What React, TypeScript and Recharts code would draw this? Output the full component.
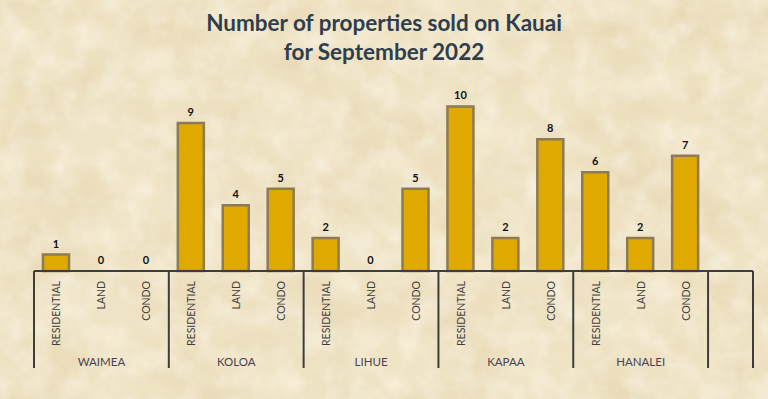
import { Bar, BarChart, Rectangle, XAxis, YAxis } from "recharts";

const types = ["RESIDENTIAL", "LAND", "CONDO"];
const regions = ["WAIMEA", "KOLOA", "LIHUE", "KAPAA", "HANALEI"];
const waimea = [1, 0, 0];
const koloa = [9, 4, 5];
const lihue = [2, 0, 5];
const kapaa = [10, 2, 8];
const hanalei = [6, 2, 7];
const sold = [waimea, koloa, lihue, kapaa, hanalei];

const W = 768;
const H = 399;
const LEFT = 34;
const RIGHT = 15;
const SLOTS = 16;
const BAND = (W - LEFT - RIGHT) / SLOTS;
const FONT = "Lato, 'Noto Sans', sans-serif";

type Row = { key: string; type: string; region: string; value: number | null };

const data: Row[] = [];
regions.forEach((region, r) => {
  types.forEach((type, t) => {
    data.push({ key: `${region}-${type}`, type, region, value: sold[r][t] });
  });
});
// empty slot at the end, like the original sheet
data.push({ key: "", type: "", region: "", value: null });

function GroupTick(props: any) {
  const { x, y, index } = props;
  const row = data[index];
  if (!row) return null;
  const lineColor = "#3d3d3d";
  return (
    <g>
      {index % 3 === 0 && (
        <line x1={x - BAND / 2} x2={x - BAND / 2} y1={y} y2={y + 97} stroke={lineColor} strokeWidth={2} />
      )}
      {index === data.length - 1 && (
        <line x1={x + BAND / 2} x2={x + BAND / 2} y1={y} y2={y + 97} stroke={lineColor} strokeWidth={2} />
      )}
      {row.type && (
        <text
          transform={`translate(${x + 4},${y + 10}) rotate(-90)`}
          textAnchor="end"
          fontSize={10.5}
          fill="#3f3f3f"
          fontFamily={FONT}
        >
          {row.type}
        </text>
      )}
      {index % 3 === 1 && row.region && (
        <text x={x} y={y + 95} textAnchor="middle" fontSize={11.5} fill="#4a4252" fontFamily={FONT}>
          {row.region}
        </text>
      )}
    </g>
  );
}

// bar plus its value label, so zero values still get a "0"
function BarWithLabel(props: any) {
  const { x, y, width, height, value, payload } = props;
  const v = payload ? payload.value : value;
  if (v === null || v === undefined) return null;
  return (
    <g>
      {height > 0 && <Rectangle {...props} />}
      <text x={x + width / 2} y={y - 7} textAnchor="middle" fontSize={11} fontWeight="bold" fill="#111" fontFamily={FONT}>
        {v}
      </text>
    </g>
  );
}

function Parchment() {
  return (
    <svg width={W} height={H} style={{ position: "absolute", left: 0, top: 0 }}>
      <defs>
        <filter id="paper" x="0" y="0" width="100%" height="100%">
          <feTurbulence type="fractalNoise" baseFrequency="0.012 0.018" numOctaves={5} seed={7} result="n" />
          <feColorMatrix
            in="n"
            type="matrix"
            values="0 0 0 0 0.72  0 0 0 0 0.58  0 0 0 0 0.33  1.6 0 0 0 -0.62"
          />
        </filter>
        <filter id="paper2" x="0" y="0" width="100%" height="100%">
          <feTurbulence type="fractalNoise" baseFrequency="0.04" numOctaves={3} seed={3} result="n" />
          <feColorMatrix
            in="n"
            type="matrix"
            values="0 0 0 0 1  0 0 0 0 0.98  0 0 0 0 0.92  1.4 0 0 0 -0.55"
          />
        </filter>
      </defs>
      <rect width={W} height={H} fill="#f0e4c6" />
      <rect width={W} height={H} filter="url(#paper)" opacity={0.5} />
      <rect width={W} height={H} filter="url(#paper2)" opacity={0.65} />
    </svg>
  );
}

export default function App() {
  return (
    <div style={{ position: "absolute", left: 0, top: 0, width: W, height: H, overflow: "hidden" }}>
      <Parchment />
      <div
        style={{
          position: "absolute",
          left: 0,
          top: 8,
          width: W,
          textAlign: "center",
          fontFamily: FONT,
          fontWeight: 700,
          fontSize: 22.5,
          lineHeight: "29px",
          color: "#2f3e4c",
        }}
      >
        Number of properties sold on Kauai
        <br />
        for September 2022
      </div>
      <div style={{ position: "absolute", left: 0, top: 0 }}>
        <BarChart width={W} height={H} data={data} margin={{ top: 90, right: RIGHT, bottom: 28, left: LEFT }} barCategoryGap={0}>
          <XAxis
            dataKey="key"
            height={100}
            interval={0}
            tickLine={false}
            tickSize={0}
            tickMargin={0}
            axisLine={{ stroke: "#3d3d3d", strokeWidth: 2 }}
            tick={<GroupTick />}
          />
          <YAxis hide domain={[0, 11]} />
          <Bar
            dataKey="value"
            barSize={26}
            fill="#dfa900"
            stroke="#8c7c56"
            strokeWidth={2.5}
            isAnimationActive={false}
            shape={BarWithLabel}
          />
        </BarChart>
      </div>
    </div>
  );
}
